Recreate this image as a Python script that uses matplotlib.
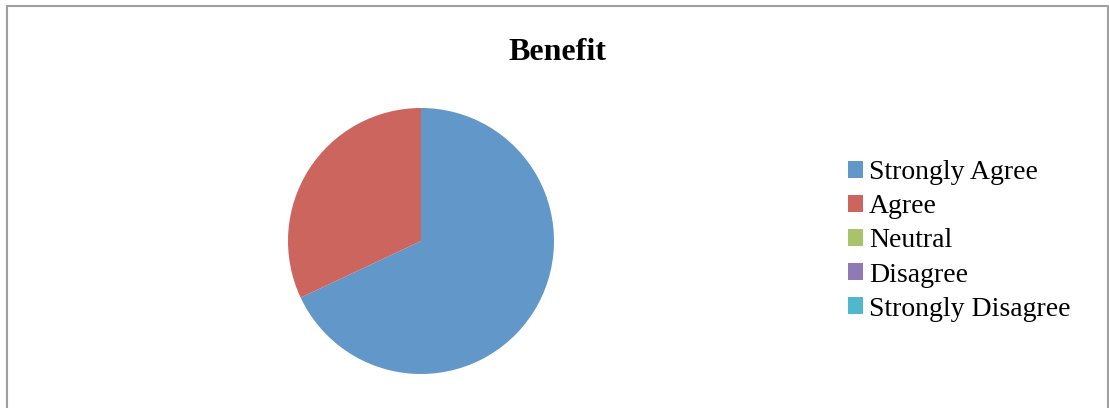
import matplotlib
matplotlib.use('Agg')
import matplotlib.pyplot as plt
from matplotlib.patches import Rectangle

# data
labels = ['Strongly Agree', 'Agree', 'Neutral', 'Disagree', 'Strongly Disagree']
values = [68, 32, 0, 0, 0]
colors = ['#6197C9', '#CC655D', '#A9C36B', '#8F7AB3', '#50B8CE']

plt.rcParams['font.family'] = ['Liberation Serif', 'DejaVu Serif']

W, H = 1109, 408
fig = plt.figure(figsize=(W / 100, H / 100), dpi=100)
fig.patch.set_facecolor('white')

# outer frame (bottom edge is cut off in the original)
fig.add_artist(Rectangle((6.5 / W, -0.1), 1101 / W, 1.1 - 6 / H,
                         transform=fig.transFigure, fill=False,
                         ec='#a0a0a0', lw=1.5))

# pie
ax = fig.add_axes([288 / W, 34 / H, 266 / W, 266 / H])
wedges, _ = ax.pie(values, colors=colors, startangle=90, counterclock=False,
                   radius=1, wedgeprops=dict(linewidth=0))
ax.set_xlim(-1, 1)
ax.set_ylim(-1, 1)
ax.set_aspect('equal')
ax.axis('off')

fig.text(557 / W, 1 - 53 / H, 'Benefit', ha='center', va='center',
         fontsize=23, fontweight='bold')

fig.legend(wedges, labels, loc='upper left',
           bbox_to_anchor=(848 / W, 1 - 160 / H),
           frameon=False, fontsize=20, borderpad=0, borderaxespad=0,
           handlelength=0.55, handleheight=0.55, handletextpad=0.2,
           labelspacing=0.33)

fig.savefig('out.png', dpi=100)
